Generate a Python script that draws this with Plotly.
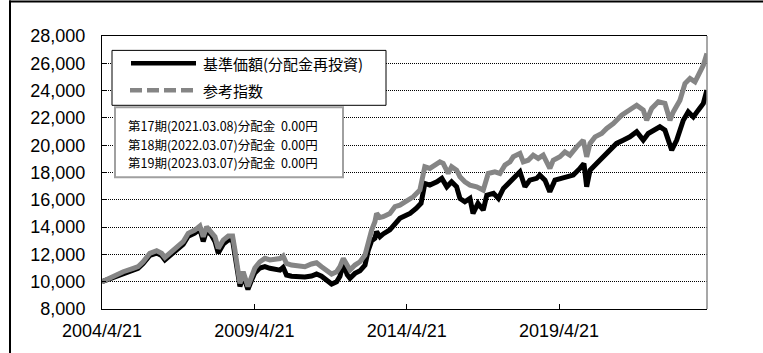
import plotly.graph_objects as go

# ---------------- data ----------------
index_dates = [
    "2004-04-21", "2004-09-01", "2005-01-01", "2005-05-01", "2005-06-27", "2005-08-27",
    "2005-11-15", "2006-02-05", "2006-04-05", "2006-05-15", "2006-07-13", "2006-10-01",
    "2006-12-20", "2007-02-18", "2007-05-08", "2007-07-08", "2007-08-17", "2007-09-27",
    "2007-11-25", "2008-01-05", "2008-02-13", "2008-04-13", "2008-06-12", "2008-08-03",
    "2008-08-31", "2008-10-10", "2008-10-30", "2008-12-08", "2009-01-18", "2009-02-03",
    "2009-03-18", "2009-04-27", "2009-06-26", "2009-08-25", "2009-10-24", "2009-12-24",
    "2010-02-22", "2010-04-01", "2010-05-11", "2010-07-10", "2010-09-28", "2010-12-17",
    "2011-03-07", "2011-05-06", "2011-07-05", "2011-09-04", "2011-11-03", "2012-01-02",
    "2012-02-11", "2012-03-22", "2012-05-08", "2012-06-10", "2012-08-09", "2012-10-08",
    "2012-12-07", "2013-01-16", "2013-02-25", "2013-04-05", "2013-04-25", "2013-06-04",
    "2013-07-13", "2013-10-01", "2013-12-01", "2014-01-29", "2014-04-21", "2014-07-08",
    "2014-09-26", "2014-11-04", "2014-11-24", "2015-01-23", "2015-03-24", "2015-05-23",
    "2015-07-02", "2015-08-31", "2015-10-11", "2015-12-10", "2016-01-19", "2016-03-18",
    "2016-05-18", "2016-08-06", "2016-10-24", "2016-11-25", "2016-12-23", "2017-03-13",
    "2017-05-12", "2017-07-11", "2017-09-09", "2017-10-19", "2018-01-07", "2018-02-16",
    "2018-04-16", "2018-06-15", "2018-08-14", "2018-10-13", "2019-01-01", "2019-02-10",
    "2019-05-01", "2019-06-30", "2019-08-29", "2019-11-18", "2020-02-05", "2020-03-17",
    "2020-04-26", "2020-06-25", "2020-09-13", "2020-11-12", "2021-01-30", "2021-05-10",
    "2021-07-28", "2021-11-06", "2022-01-24", "2022-03-06", "2022-05-05", "2022-07-23",
    "2022-10-11", "2022-12-10", "2023-01-19", "2023-04-09", "2023-06-08", "2023-08-07",
    "2023-10-06", "2023-12-05", "2024-01-14", "2024-02-26",
]
index_values = [
    10000, 10420, 10730, 10980, 11100, 11460,
    12080, 12270, 12080, 11780, 12080, 12560,
    12930, 13540, 13780, 14080, 13290, 14020,
    13660, 13290, 12440, 13050, 13340, 13340,
    12320, 10850, 9880, 10730, 10100, 9650,
    10360, 11000, 11460, 11710, 11590, 11600,
    11700, 11880, 11340, 11220, 11200, 11100,
    11300, 11390, 11100, 10800, 10560, 10730,
    11100, 11710, 11100, 10850, 11220, 11460,
    11950, 13050, 13780, 14390, 15000, 14700,
    14760, 15000, 15500, 15610, 15980, 16220,
    16710, 17930, 18420, 18300, 18540, 18780,
    18660, 17930, 18420, 18170, 17690, 17320,
    17080, 16950, 16710, 17320, 17930, 18050,
    17930, 18540, 18780, 19150, 19400, 18780,
    18900, 19270, 19030, 19270, 18300, 18900,
    19150, 19510, 19270, 19880, 20370, 19150,
    20130, 20610, 20860, 21230, 21590, 22200,
    22570, 22930, 22570, 21830, 22690, 23180,
    23060, 21830, 22440, 23300, 24520, 24890,
    24640, 25370, 25860, 26720,
]

nav_dates = [
    "2004-04-21", "2004-09-01", "2005-01-01", "2005-05-01", "2005-06-27", "2005-08-27",
    "2005-11-15", "2006-02-05", "2006-04-05", "2006-05-15", "2006-07-13", "2006-10-01",
    "2006-12-20", "2007-02-18", "2007-05-08", "2007-07-08", "2007-08-17", "2007-09-27",
    "2007-11-25", "2008-01-05", "2008-02-13", "2008-04-13", "2008-06-12", "2008-08-03",
    "2008-08-31", "2008-10-10", "2008-10-30", "2008-12-08", "2009-01-18", "2009-02-03",
    "2009-03-18", "2009-04-27", "2009-06-26", "2009-08-25", "2009-10-24", "2009-12-24",
    "2010-02-22", "2010-04-01", "2010-05-11", "2010-07-10", "2010-09-28", "2010-12-17",
    "2011-03-07", "2011-05-06", "2011-07-05", "2011-09-04", "2011-11-03", "2012-01-02",
    "2012-02-11", "2012-03-22", "2012-05-08", "2012-06-10", "2012-08-09", "2012-10-08",
    "2012-12-07", "2013-01-16", "2013-02-25", "2013-04-05", "2013-04-25", "2013-06-04",
    "2013-07-13", "2013-10-01", "2013-12-01", "2014-01-29", "2014-04-21", "2014-05-31",
    "2014-08-12", "2014-10-10", "2014-11-24", "2015-01-23", "2015-04-18", "2015-06-16",
    "2015-08-15", "2015-10-11", "2015-12-10", "2016-01-19", "2016-03-18", "2016-05-18",
    "2016-06-24", "2016-08-22", "2016-10-24", "2016-12-06", "2017-02-24", "2017-04-24",
    "2017-06-23", "2017-09-09", "2017-11-08", "2018-01-07", "2018-03-08", "2018-05-06",
    "2018-07-26", "2018-09-02", "2018-11-03", "2018-12-31", "2019-03-03", "2019-05-22",
    "2019-08-08", "2019-10-08", "2019-12-27", "2020-02-13", "2020-03-17", "2020-04-26",
    "2020-07-14", "2020-10-01", "2020-12-19", "2021-03-10", "2021-05-28", "2021-08-17",
    "2021-11-06", "2022-01-24", "2022-03-25", "2022-05-24", "2022-08-11", "2022-10-11",
    "2022-11-20", "2022-12-31", "2023-03-01", "2023-05-19", "2023-07-17", "2023-09-16",
    "2023-11-14", "2024-01-14", "2024-02-26",
]
nav_values = [
    10000, 10300, 10620, 10850, 10980, 11330,
    11920, 12100, 11920, 11600, 11900, 12380,
    12740, 13330, 13560, 13850, 12950, 13750,
    13400, 12950, 12100, 12750, 13050, 13050,
    12050, 10550, 9650, 10450, 9800, 9440,
    10100, 10650, 11000, 11100, 10980, 10950,
    10850, 11050, 10490, 10400, 10360, 10350,
    10420, 10560, 10400, 10120, 9830, 10000,
    10400, 11340, 10500, 10250, 10610, 10800,
    11220, 12320, 13000, 13180, 13660, 13290,
    13500, 13800, 14270, 14640, 14880, 15000,
    15370, 15740, 17200, 17080, 17320, 17570,
    16950, 17320, 16950, 16100, 15850, 16100,
    15000, 15740, 15250, 16340, 16470, 16100,
    16830, 17320, 17690, 18050, 16950, 17440,
    17570, 17810, 17440, 16590, 17440, 17570,
    17690, 17810, 18300, 18660, 16950, 18170,
    18660, 19150, 19640, 20130, 20370, 20610,
    20980, 20370, 20860, 21100, 21350, 21100,
    20370, 19640, 20370, 21830, 22440, 22070,
    22570, 23060, 24030,
]

series_names = ["基準価額(分配金再投資)", "参考指数"]
x_tick_values = ["2004-04-21", "2009-04-21", "2014-04-21", "2019-04-21"]
x_tick_labels = ["2004/4/21", "2009/4/21", "2014/4/21", "2019/4/21"]
distribution_notes = [
    "第17期(2021.03.08)分配金  0.00円",
    "第18期(2022.03.07)分配金  0.00円",
    "第19期(2023.03.07)分配金  0.00円",
]

# ---------------- layout geometry ----------------
W, H = 763, 353
L, R, T, B = 102, 707, 35.6, 309.0


def px(x):
    return (x - L) / (R - L)


def py(y):
    return (B - y) / (B - T)


fig = go.Figure()
fig.add_trace(go.Scatter(x=nav_dates, y=nav_values, mode="lines", name=series_names[0],
                         line=dict(color="#000000", width=5), showlegend=False))
fig.add_trace(go.Scatter(x=index_dates, y=index_values, mode="lines", name=series_names[1],
                         line=dict(color="#858585", width=5), showlegend=False))

tick_font = dict(family="Liberation Sans, Arial", size=18, color="#000000")

fig.update_layout(
    width=W, height=H,
    margin=dict(l=L, r=W - R, t=T, b=H - B),
    paper_bgcolor="#ffffff", plot_bgcolor="#ffffff",
    xaxis=dict(
        type="date", range=["2004-04-21", "2024-02-27"],
        tickvals=x_tick_values, ticktext=x_tick_labels,
        ticks="inside", ticklen=5, tickcolor="#000000", tickwidth=1,
        showgrid=False, zeroline=False,
        showline=True, linecolor="#000000", linewidth=1, mirror=True,
        tickfont=tick_font, ticklabelstandoff=5,
    ),
    yaxis=dict(
        range=[8000, 28000], dtick=2000, tick0=8000, tickformat=",d",
        ticks="inside", ticklen=4, tickcolor="#000000", tickwidth=1,
        showgrid=True, gridcolor="#000000", gridwidth=1, griddash="1px,1px",
        zeroline=False,
        showline=True, linecolor="#000000", linewidth=1,
        tickfont=tick_font, ticklabelstandoff=12,
    ),
    showlegend=False,
)

shapes = []
# right edge of the plot area (grey)
shapes.append(dict(type="line", xref="paper", yref="paper", x0=1, x1=1, y0=0, y1=1,
                   line=dict(color="#8a8a8a", width=1.5)))
# outer frame (top + left)
shapes.append(dict(type="line", xref="paper", yref="paper", x0=px(9), x1=px(763),
                   y0=py(1), y1=py(1), line=dict(color="#000000", width=2)))
shapes.append(dict(type="line", xref="paper", yref="paper", x0=px(10), x1=px(10),
                   y0=py(0), y1=py(353), line=dict(color="#000000", width=2)))
# legend box
shapes.append(dict(type="rect", xref="paper", yref="paper", x0=px(112), x1=px(386),
                   y0=py(105), y1=py(50), line=dict(color="#000000", width=1),
                   fillcolor="#ffffff"))
shapes.append(dict(type="line", xref="paper", yref="paper", x0=px(131), x1=px(196),
                   y0=py(63), y1=py(63), line=dict(color="#000000", width=4.5)))
shapes.append(dict(type="line", xref="paper", yref="paper", x0=px(130), x1=px(197),
                   y0=py(90), y1=py(90), line=dict(color="#858585", width=4.5, dash="12px,5px")))
# distribution box
shapes.append(dict(type="rect", xref="paper", yref="paper", x0=px(115), x1=px(343),
                   y0=py(177), y1=py(107), line=dict(color="#a0a0a0", width=2),
                   fillcolor="#ffffff"))

annotations = []
legend_font = dict(family="Noto Sans CJK JP", size=15, color="#000000")
annotations.append(dict(xref="paper", yref="paper", x=px(201), y=py(63), text=series_names[0],
                        showarrow=False, xanchor="left", yanchor="middle", font=legend_font))
annotations.append(dict(xref="paper", yref="paper", x=px(201), y=py(90), text=series_names[1],
                        showarrow=False, xanchor="left", yanchor="middle", font=legend_font))
note_font = dict(family="Noto Sans CJK JP", size=12.5, color="#000000")
for i, note in enumerate(distribution_notes):
    annotations.append(dict(xref="paper", yref="paper", x=px(126), y=py(125.5 + 18.6 * i),
                            text=note, showarrow=False, xanchor="left", yanchor="middle",
                            font=note_font))

fig.update_layout(shapes=shapes, annotations=annotations)
fig.write_html("out.html")
